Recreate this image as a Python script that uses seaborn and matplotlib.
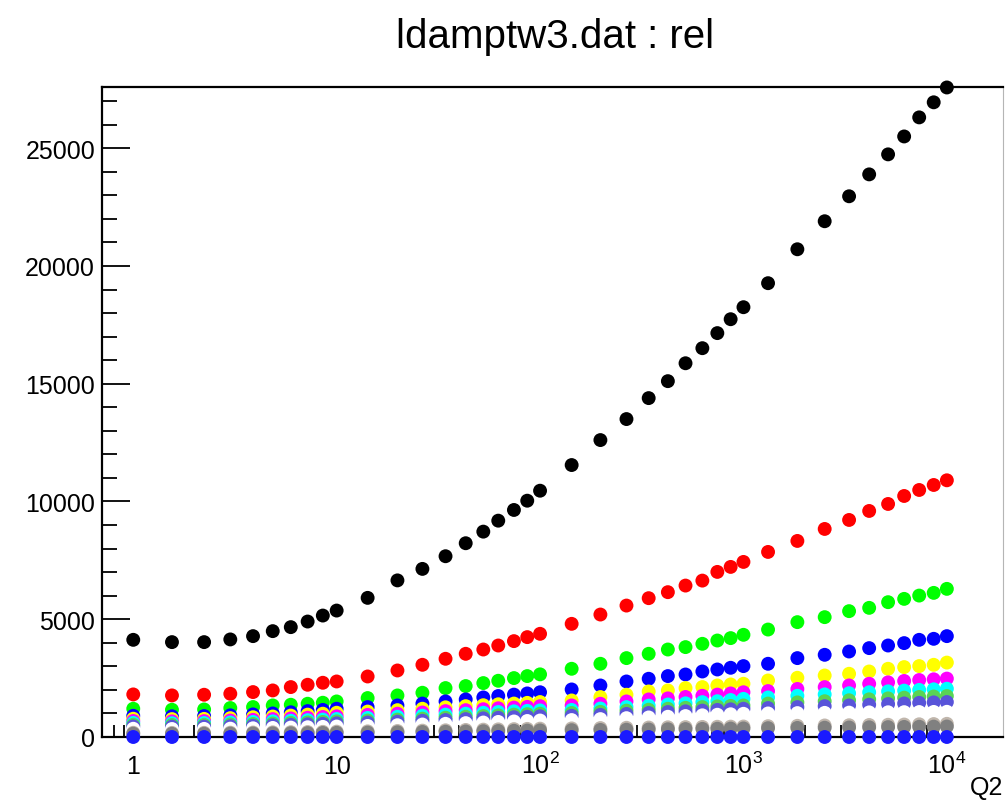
import matplotlib
matplotlib.use("Agg")
import matplotlib.pyplot as plt
import pandas as pd
import seaborn as sns
from matplotlib.ticker import MultipleLocator, LogLocator, NullFormatter

# Q2 grid (40 points, 1 .. 1e4)
q2 = [1, 1.55, 2.23, 3.0, 3.88, 4.85, 5.95, 7.2, 8.55, 10,
      14.2, 19.9, 26.4, 34.3, 43.1, 52.6, 62.3, 74.4, 86.5, 100,
      143, 198, 266, 342, 425, 519, 628, 744, 865, 1000,
      1321, 1841, 2508, 3306, 4150, 5141, 6166, 7311, 8616, 10000]

rel_s1 = [4126, 4029, 4029, 4143, 4283, 4495, 4665, 4903, 5157, 5369,
          5908, 6650, 7138, 7676, 8228, 8720, 9186, 9640, 10034, 10458,
          11548, 12608, 13500, 14390, 15110, 15870, 16510, 17150, 17740, 18250,
          19270, 20710, 21900, 22960, 23890, 24740, 25500, 26310, 26950, 27580]
rel_s2 = [1808, 1766, 1794, 1836, 1908, 1977, 2120, 2218, 2303, 2358,
          2570, 2825, 3066, 3321, 3533, 3715, 3885, 4071, 4241, 4381,
          4805, 5200, 5581, 5895, 6150, 6430, 6641, 7010, 7222, 7434,
          7858, 8325, 8834, 9216, 9598, 9895, 10234, 10489, 10701, 10900]
rel_s3 = [1200, 1158, 1170, 1230, 1272, 1340, 1370, 1412, 1455, 1510,
          1654, 1764, 1879, 2078, 2163, 2290, 2388, 2502, 2587, 2660,
          2897, 3109, 3350, 3533, 3715, 3817, 3957, 4097, 4199, 4339,
          4563, 4877, 5089, 5344, 5484, 5725, 5865, 6005, 6120, 6290]
rel_s4 = [900, 880, 890, 920, 960, 1000, 1050, 1100, 1150, 1200,
          1270, 1340, 1420, 1510, 1595, 1680, 1740, 1800, 1850, 1900,
          2019, 2188, 2358, 2473, 2587, 2655, 2782, 2867, 2939, 3011,
          3109, 3350, 3490, 3630, 3774, 3885, 3987, 4126, 4169, 4283]
rel_s5 = [776, 760, 770, 800, 840, 870, 910, 950, 990, 1030,
          1080, 1140, 1200, 1260, 1310, 1350, 1390, 1420, 1450, 1484,
          1552, 1696, 1794, 1934, 1977, 2078, 2120, 2188, 2231, 2260,
          2400, 2515, 2612, 2685, 2782, 2897, 2969, 3011, 3066, 3160]
rel_s6 = [680, 665, 675, 700, 730, 760, 790, 820, 850, 880,
          940, 990, 1040, 1100, 1140, 1180, 1220, 1250, 1280, 1310,
          1340, 1412, 1510, 1595, 1640, 1700, 1750, 1800, 1850, 1900,
          1950, 2040, 2120, 2190, 2260, 2320, 2380, 2420, 2450, 2480]
rel_s7 = [600, 585, 595, 615, 640, 665, 690, 715, 740, 765,
          810, 860, 905, 950, 990, 1030, 1060, 1090, 1110, 1130,
          1150, 1210, 1270, 1330, 1380, 1430, 1480, 1520, 1570, 1620,
          1680, 1750, 1810, 1860, 1900, 1940, 1970, 2000, 2025, 2050]
rel_s8 = [520, 510, 515, 535, 555, 575, 600, 620, 640, 665,
          700, 740, 780, 820, 860, 890, 920, 950, 970, 990,
          1020, 1070, 1120, 1160, 1200, 1240, 1270, 1300, 1320, 1340,
          1420, 1470, 1520, 1560, 1600, 1640, 1670, 1700, 1720, 1740]
rel_s9 = [450, 440, 445, 460, 480, 500, 520, 540, 560, 580,
          615, 650, 690, 720, 760, 790, 815, 840, 860, 880,
          900, 940, 980, 1020, 1060, 1090, 1120, 1150, 1175, 1200,
          1230, 1270, 1310, 1340, 1370, 1400, 1425, 1450, 1470, 1485]
rel_s10 = [350, 340, 345, 355, 370, 385, 400, 415, 430, 445,
           470, 500, 530, 560, 590, 615, 640, 660, 680, 700,
           720, 760, 800, 830, 860, 890, 920, 945, 965, 985,
           1000, 1015, 1025, 1035, 1045, 1050, 1055, 1060, 1065, 1070]
rel_s11 = [180, 175, 178, 185, 190, 198, 205, 212, 220, 228,
           240, 255, 270, 285, 300, 312, 325, 335, 345, 355,
           365, 380, 392, 402, 412, 420, 428, 435, 440, 445,
           460, 475, 490, 500, 510, 520, 530, 540, 550, 560]
rel_s12 = [140, 135, 138, 145, 150, 155, 160, 166, 172, 178,
           188, 200, 212, 224, 235, 245, 255, 263, 272, 280,
           290, 300, 310, 320, 330, 338, 345, 352, 358, 365,
           375, 385, 395, 405, 412, 420, 428, 435, 440, 445]
rel_s13 = [0, 0, 0, 0, 0, 0, 0, 0, 0, 0,
           0, 0, 0, 0, 0, 0, 0, 0, 0, 0,
           0, 0, 0, 0, 0, 0, 0, 0, 0, 0,
           0, 0, 0, 0, 0, 0, 0, 0, 0, 0]

series = {
    "s1": rel_s1, "s2": rel_s2, "s3": rel_s3, "s4": rel_s4,
    "s5": rel_s5, "s6": rel_s6, "s7": rel_s7, "s8": rel_s8,
    "s9": rel_s9, "s10": rel_s10, "s11": rel_s11, "s12": rel_s12,
    "s13": rel_s13,
}
colors = {
    "s1": (0, 0, 0), "s2": (1, 0, 0), "s3": (0, 1, 0), "s4": (0, 0, 1),
    "s5": (1, 1, 0), "s6": (1, 0, 1), "s7": (0, 1, 1),
    "s8": (0.35, 0.83, 0.33), "s9": (0.35, 0.33, 0.85),
    "s10": (0.999, 0.999, 0.999), "s11": (0.754, 0.715, 0.676),
    "s12": (0.5, 0.5, 0.5), "s13": (0.1, 0.1, 1.0),
}
names = list(series.keys())

# long-form table, rows ordered series by series so later series draw on top
frames = [pd.DataFrame({"Q2": q2, "rel": vals, "series": name})
          for name, vals in series.items()]
df = pd.concat(frames, ignore_index=True)

sns.set_style("ticks")
plt.rcParams["font.family"] = ["Liberation Sans", "DejaVu Sans"]
plt.rcParams["mathtext.fontset"] = "custom"
plt.rcParams["mathtext.rm"] = "Liberation Sans"
plt.rcParams["mathtext.default"] = "regular"
plt.rcParams["text.color"] = "black"

fig = plt.figure(figsize=(10.05, 8.03), dpi=100)
fig.patch.set_facecolor("white")
ax = fig.add_axes([102 / 1005, 65 / 803, 901 / 1005, 650 / 803])
ax.set_facecolor("white")

sns.scatterplot(data=df, x="Q2", y="rel", hue="series", hue_order=names,
                palette=colors, s=100, linewidth=0, legend=False,
                clip_on=False, zorder=5, ax=ax)

ax.set_xscale("log")
ax.set_xlim(0.702, 18880)
ax.set_ylim(0, 27600)
ax.set_xlabel("")
ax.set_ylabel("")

for side in ("left", "bottom", "top"):
    ax.spines[side].set_color("black")
    ax.spines[side].set_linewidth(1.6)
ax.spines["right"].set_color("#b5b5b5")
ax.spines["right"].set_linewidth(0.8)

# y axis: major every 5000, minor every 1000, ticks pointing inward
ax.yaxis.set_major_locator(MultipleLocator(5000))
ax.yaxis.set_minor_locator(MultipleLocator(1000))
ax.tick_params(axis="y", which="major", direction="in", length=20, width=1.3,
               left=True, right=False, labelsize=18, pad=5, colors="black")
ax.tick_params(axis="y", which="minor", direction="in", length=11, width=1.3,
               left=True, right=False, colors="black")

# x axis: decades labelled ROOT-style
xt = [1, 10, 100, 1000, 10000]
xl = ["1", "10", r"$10^{2}$", r"$10^{3}$", r"$10^{4}$"]
ax.set_xticks(xt, labels=xl, va="baseline")
ax.xaxis.set_minor_locator(LogLocator(base=10, subs=range(2, 10), numticks=20))
ax.xaxis.set_minor_formatter(NullFormatter())
ax.tick_params(axis="x", which="major", direction="in", length=15, width=1.3,
               bottom=True, top=False, labelsize=18, pad=26, colors="black")
ax.tick_params(axis="x", which="minor", direction="in", length=9, width=1.3,
               bottom=True, top=False, colors="black")

fig.text(555 / 1005, 1 - 48 / 803, "ldamptw3.dat : rel", ha="center",
         va="baseline", fontsize=29, color="black")
fig.text(1003 / 1005, 1 - 795 / 803, "Q2", ha="right", va="baseline",
         fontsize=18, color="black")

fig.savefig("out.png", dpi=100)
